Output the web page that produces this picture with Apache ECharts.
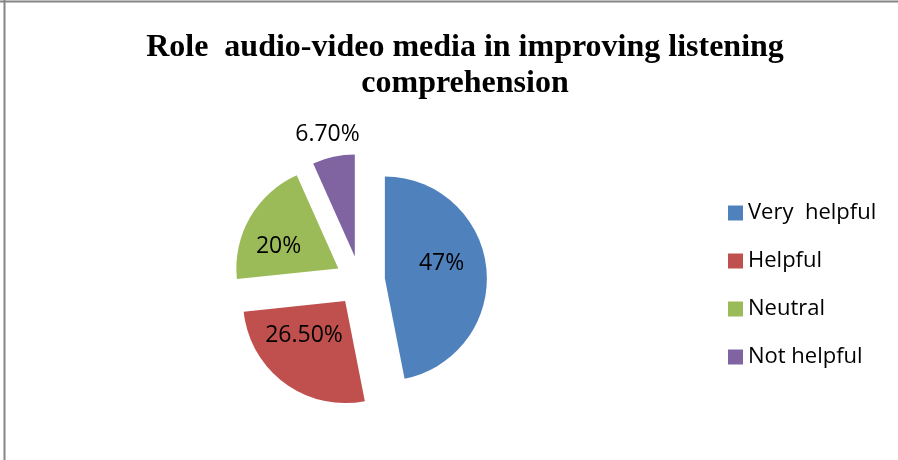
<!DOCTYPE html>
<html><head><meta charset="utf-8">
<script src="https://cdn.jsdelivr.net/npm/echarts@6/dist/echarts.min.js"></script>
<style>html,body{margin:0;padding:0;background:#fff}#c{width:898px;height:460px}</style>
</head><body><div id="c"></div>
<script>
const categories = ['Very  helpful', 'Helpful', 'Neutral', 'Not helpful'];
const values = [47, 26.5, 20, 6.7];
const valueLabels = ['47%', '26.50%', '20%', '6.70%'];
const colors = ['#4F81BD', '#C0504D', '#9BBB59', '#8064A2'];
// small label nudges relative to the default inside position
const labelDx = [3, -9, -13, -16];
const labelDy = [-10, -9, 5, -69];

const chart = echarts.init(document.getElementById('c'));
const data = categories.map((name, i) => ({
  name: name, value: values[i], selected: true,
  itemStyle: { color: colors[i] }
}));
chart.setOption({
  animation: false,
  title: {
    text: 'Role  audio-video media in improving listening\ncomprehension',
    left: 460, top: 25, textAlign: 'center',
    textStyle: { fontFamily: 'Liberation Serif', fontWeight: 'bold', fontSize: 32, lineHeight: 36, color: '#000' }
  },
  legend: {
    orient: 'vertical', left: 723, top: 196,
    icon: 'rect', itemWidth: 15, itemHeight: 15, itemGap: 24,
    selectedMode: false,
    data: categories,
    textStyle: { fontFamily: 'Open Sans', fontSize: 22, lineHeight: 24, color: '#000' }
  },
  graphic: [
    { type: 'line', shape: { x1: 0, y1: 1.5, x2: 898, y2: 1.5 }, style: { stroke: '#868686', lineWidth: 2 } },
    { type: 'line', shape: { x1: 4.5, y1: 0, x2: 4.5, y2: 460 }, style: { stroke: '#868686', lineWidth: 2 } }
  ],
  series: [{
    type: 'pie',
    center: [360, 281], radius: 102,
    startAngle: 90, clockwise: true,
    selectedMode: 'multiple', selectedOffset: 25,
    emphasis: { disabled: true },
    label: {
      position: 'inside', fontFamily: 'Open Sans', fontSize: 23, color: '#000',
      formatter: p => valueLabels[p.dataIndex]
    },
    labelLine: { show: false },
    labelLayout: p => ({ dx: labelDx[p.dataIndex], dy: labelDy[p.dataIndex] }),
    data: data
  }]
});
</script></body></html>
